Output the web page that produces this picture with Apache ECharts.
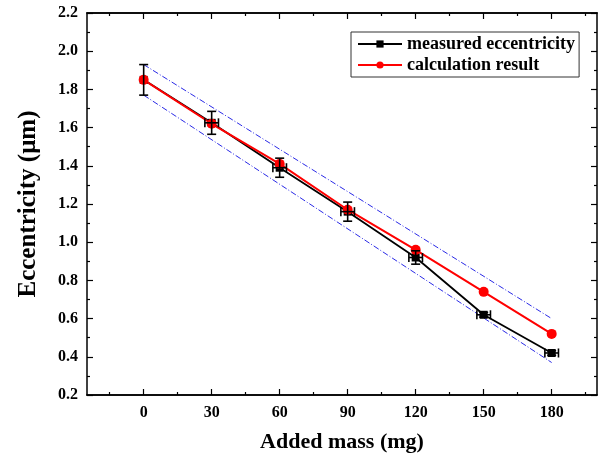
<!DOCTYPE html>
<html>
<head>
    <meta charset="utf-8">
    <title>Eccentricity</title>
    <script src="https://cdn.jsdelivr.net/npm/echarts@6/dist/echarts.min.js"></script>
</head>
<body style="margin:0">
<div id="main" style="width:605px;height:458px"></div>
<script>
    // 数据
    var mass = [0, 30, 60, 90, 120, 150, 180];
    var measured = [1.85, 1.625, 1.39, 1.16, 0.92, 0.62, 0.42];
    var measuredErrY = [0.08, 0.06, 0.05, 0.05, 0.035, 0.012, 0.012];
    var measuredErrX = [0, 3, 3, 3, 3, 3, 3];
    var calculated = [1.85, 1.62, 1.41, 1.17, 0.96, 0.74, 0.52];
    var upperBound = [[0, 1.93], [180, 0.60]];
    var lowerBound = [[0, 1.77], [180, 0.37]];
    var majorX = [0, 30, 60, 90, 120, 150, 180];
    var minorX = [-15, 15, 45, 75, 105, 135, 165, 195];

    var font = '"Liberation Serif", "Times New Roman", serif';

    function pairs(ys) {
        var out = [];
        for (var i = 0; i < mass.length; i++) out.push([mass[i], ys[i]]);
        return out;
    }
    var errData = [];
    for (var i = 0; i < mass.length; i++) {
        errData.push([mass[i], measured[i], measuredErrX[i], measuredErrY[i]]);
    }

    function xAxisDef(pos, ticks, len, showLabel, showName) {
        return {
            type: 'value', position: pos, min: -25, max: 200,
            name: showName ? 'Added mass (mg)' : '',
            nameLocation: 'middle', nameGap: 36,
            nameTextStyle: {fontFamily: font, fontWeight: 'bold', fontSize: 22, color: '#000'},
            axisLine: {show: true, onZero: false, lineStyle: {color: '#000', width: 1.5}},
            axisTick: {show: true, inside: true, length: len, customValues: ticks, lineStyle: {color: '#000', width: 1.2}},
            axisLabel: {show: showLabel, customValues: ticks, margin: 10, fontFamily: font, fontWeight: 'bold', fontSize: 16, color: '#000'},
            splitLine: {show: false}
        };
    }
    function yAxisDef(pos, showLabel) {
        return {
            type: 'value', position: pos, min: 0.2, max: 2.2, interval: 0.2,
            name: showLabel ? 'Eccentricity (\u03bcm)' : '',
            nameLocation: 'middle', nameGap: 46,
            nameTextStyle: {fontFamily: font, fontWeight: 'bold', fontSize: 25, color: '#000'},
            axisLine: {show: true, onZero: false, lineStyle: {color: '#000', width: 1.5}},
            axisTick: {show: true, inside: true, length: 6, lineStyle: {color: '#000', width: 1.2}},
            minorTick: {show: true, splitNumber: 2, length: 3, lineStyle: {color: '#000', width: 1.2}},
            axisLabel: {show: showLabel, margin: 9, fontFamily: font, fontWeight: 'bold', fontSize: 16, color: '#000',
                formatter: function (v) { return v.toFixed(1); }},
            splitLine: {show: false}
        };
    }

    var myChart = echarts.init(document.getElementById('main'));
    myChart.setOption({
        animation: false,
        grid: {left: 87, right: 8, top: 13, bottom: 62},
        legend: {
            orient: 'vertical', left: 351, top: 32,
            data: ['measured eccentricity', 'calculation result'],
            itemWidth: 44, itemHeight: 9, itemGap: 3,
            padding: [3, 4, 3, 6],
            borderColor: '#333', borderWidth: 1,
            textStyle: {fontFamily: font, fontWeight: 'bold', fontSize: 18, color: '#000'}
        },
        xAxis: [
            xAxisDef('bottom', majorX, 6, true, true),
            xAxisDef('bottom', minorX, 3, false, false),
            xAxisDef('top', majorX, 6, false, false),
            xAxisDef('top', minorX, 3, false, false)
        ],
        yAxis: [
            yAxisDef('left', true),
            yAxisDef('right', false)
        ],
        series: [
            {
                name: 'upper', type: 'line', data: upperBound, symbol: 'none', silent: true,
                lineStyle: {color: '#2a2ae6', width: 1, type: [6, 2, 1, 2]}
            },
            {
                name: 'lower', type: 'line', data: lowerBound, symbol: 'none', silent: true,
                lineStyle: {color: '#2a2ae6', width: 1, type: [6, 2, 1, 2]}
            },
            {
                name: 'measured eccentricity', type: 'line', data: pairs(measured),
                symbol: 'rect', symbolSize: 8, itemStyle: {color: '#000'},
                lineStyle: {color: '#000', width: 1.8}
            },
            {
                name: 'calculation result', type: 'line', data: pairs(calculated),
                symbol: 'circle', symbolSize: 10, itemStyle: {color: '#f00'},
                lineStyle: {color: '#f00', width: 2}
            },
            {
                // 误差棒
                name: 'err', type: 'custom', data: errData, silent: true, z: 5,
                renderItem: function (params, api) {
                    var x = api.value(0), y = api.value(1), ex = api.value(2), ey = api.value(3);
                    var c = 4.5;
                    var top = api.coord([x, y + ey]);
                    var bot = api.coord([x, y - ey]);
                    var lft = api.coord([x - ex, y]);
                    var rgt = api.coord([x + ex, y]);
                    var st = {stroke: '#000', lineWidth: 1.6};
                    var kids = [
                        {type: 'line', shape: {x1: top[0], y1: top[1], x2: bot[0], y2: bot[1]}, style: st},
                        {type: 'line', shape: {x1: top[0] - c, y1: top[1], x2: top[0] + c, y2: top[1]}, style: st},
                        {type: 'line', shape: {x1: bot[0] - c, y1: bot[1], x2: bot[0] + c, y2: bot[1]}, style: st}
                    ];
                    if (ex > 0) {
                        kids.push({type: 'line', shape: {x1: lft[0], y1: lft[1], x2: rgt[0], y2: rgt[1]}, style: st});
                        kids.push({type: 'line', shape: {x1: lft[0], y1: lft[1] - c, x2: lft[0], y2: lft[1] + c}, style: st});
                        kids.push({type: 'line', shape: {x1: rgt[0], y1: rgt[1] - c, x2: rgt[0], y2: rgt[1] + c}, style: st});
                    }
                    return {type: 'group', children: kids};
                }
            }
        ]
    });
</script>
</body>
</html>
